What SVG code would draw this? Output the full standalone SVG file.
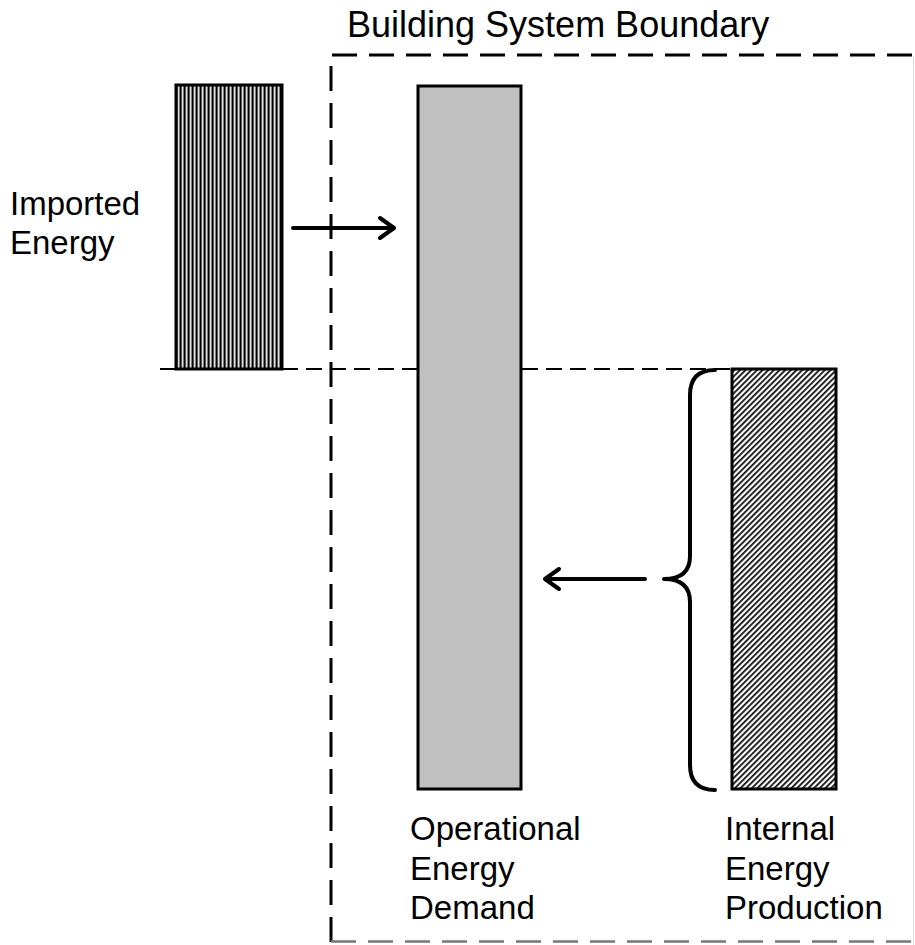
<svg xmlns="http://www.w3.org/2000/svg" width="915" height="945" viewBox="0 0 915 945">
  <style>
    .label { font-family: "Liberation Sans", Arial, sans-serif; font-size: 33px; fill: #000; }
    .title { font-family: "Liberation Sans", Arial, sans-serif; font-size: 36px; fill: #000; }
    .bar { stroke: #000; stroke-width: 3; }
    .boundary { fill: none; stroke: #000; stroke-width: 3; stroke-dasharray: 25 12; }
    .level { fill: none; stroke: #000; stroke-width: 2; stroke-dasharray: 16 8; }
    .flow { fill: none; stroke: #000; stroke-width: 4; stroke-linecap: round; stroke-linejoin: round; }
  </style>
  <defs>
    <!-- dense vertical stripes for imported energy -->
    <pattern id="vstripes" patternUnits="userSpaceOnUse" width="4" height="10">
      <rect width="4" height="10" fill="#6e6e6e"/>
      <rect x="0" width="1.2" height="10" fill="#000"/>
      <rect x="2.2" width="0.9" height="10" fill="#fff"/>
    </pattern>
    <!-- fine diagonal hatch for internal production -->
    <pattern id="dhatch" patternUnits="userSpaceOnUse" width="4" height="4" patternTransform="rotate(45)">
      <rect width="4" height="4" fill="#fff"/>
      <rect width="1.8" height="4" fill="#111"/>
    </pattern>
  </defs>

  <rect width="915" height="945" fill="#fff"/>

  <!-- building system boundary -->
  <g id="boundary">
    <path class="boundary" d="M331,942 V55 H915"/>
    <path d="M331,941.5 H915" fill="none" stroke="#777" stroke-width="2.5" stroke-dasharray="25 12"/>
    <line x1="913.5" y1="57" x2="913.5" y2="945" stroke="#d8d8d8" stroke-width="1"/>
    <text class="title" x="347" y="37">Building System Boundary</text>
  </g>

  <!-- reference level line -->
  <g id="level">
    <line x1="160" y1="369" x2="176" y2="369" stroke="#000" stroke-width="2"/>
    <line class="level" x1="282" y1="369" x2="732" y2="369"/>
  </g>

  <g id="imported">
    <rect class="bar" x="176" y="85" width="106" height="284" fill="url(#vstripes)"/>
    <text class="label" x="10" y="215">Imported</text>
    <text class="label" x="10" y="254">Energy</text>
  </g>

  <g id="demand">
    <rect class="bar" x="418" y="86" width="103" height="703" fill="#c0c0c0"/>
    <text class="label" x="410" y="840">Operational</text>
    <text class="label" x="410" y="880">Energy</text>
    <text class="label" x="410" y="919">Demand</text>
  </g>

  <g id="production">
    <rect class="bar" x="732" y="369" width="104" height="420" fill="url(#dhatch)"/>
    <text class="label" x="725" y="840">Internal</text>
    <text class="label" x="725" y="880">Energy</text>
    <text class="label" x="725" y="919">Production</text>
  </g>

  <g id="connectors">
    <path class="flow" d="M293,228 H394 M380,218 L394,228 L380,238"/>
    <path class="flow" d="M645,579 H545 M559,569 L545,579 L559,589"/>
    <path class="flow" d="M715,370 Q690,370 690,395 V556 Q690,579 664,579 Q690,579 690,602 V765 Q690,790 715,790"/>
  </g>
</svg>
